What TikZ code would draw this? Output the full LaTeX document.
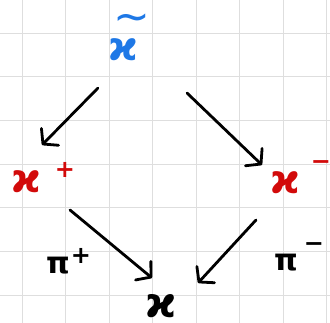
\documentclass[tikz,border=0pt]{standalone}
\usepackage{fontspec}
\newfontfamily\dv{DejaVu Sans}
\usetikzlibrary{arrows.meta,calc}
\definecolor{inkblue}{RGB}{30,120,230}
\definecolor{inkred}{RGB}{210,10,10}
\begin{document}
\begin{tikzpicture}[x=1pt,y=-1pt,
  sym/.style={inner sep=0pt, font=\dv\bfseries\fontsize{40}{42}\selectfont},
  pisym/.style={inner sep=0pt, font=\dv\bfseries\fontsize{30}{32}\selectfont},
  sup/.style={inner sep=0pt, font=\dv\bfseries\fontsize{24}{26}\selectfont},
  arr/.style={line width=2.8pt, line cap=round, line join=round,
    -{Straight Barb[round,length=10pt,width=24pt]}},
  gridline/.style={black!13, line width=0.8pt}]
\useasboundingbox (0,0) rectangle (330,323);
\foreach \x in {22,65.5,109,152.5,196,239.5,283,326.5} \draw[gridline] (\x,0) -- (\x,323);
\foreach \y in {33,76.7,120.3,164,207.7,251.3,295} \draw[gridline] (0,\y) -- (330,\y);
% nodes
\node[sym, text=inkblue] (t) at (123,50) {ϰ};
\node[inner sep=0pt, text=inkblue, font=\dv\fontsize{44}{44}\selectfont,
      text height=8pt, text depth=0pt] (tt) at (132,28) {\char"223C};
\node[sym, text=inkred] (l) at (26,182) {ϰ};
\node[sup, text=inkred] (lp) at (65,170) {+};
\node[sym, text=inkred] (r) at (285,183) {ϰ};
\node[sup, text=inkred] (rm) at (321,165) {−};
\node[sym, font=\dv\bfseries\fontsize{42}{44}\selectfont] (b) at (161,306) {ϰ};
\node[pisym] (pl) at (58,266) {π};
\node[sup] (plp) at (81,256) {+};
\node[pisym] (pr) at (286,263) {π};
\node[sup] (prm) at (314,247) {−};
% arrows
\draw[arr] ($(t)+(-25,38)$) -- ($(l)+(16,-37)$);
\draw[arr] ($(t)+(64,43)$) -- ($(r)+(-23,-18)$);
\draw[arr] ($(l)+(44,28)$) -- ($(b)+(-9,-28)$);
\draw[arr] ($(r)+(-29,37)$) -- ($(b)+(37,-23)$);
\end{tikzpicture}
\end{document}
